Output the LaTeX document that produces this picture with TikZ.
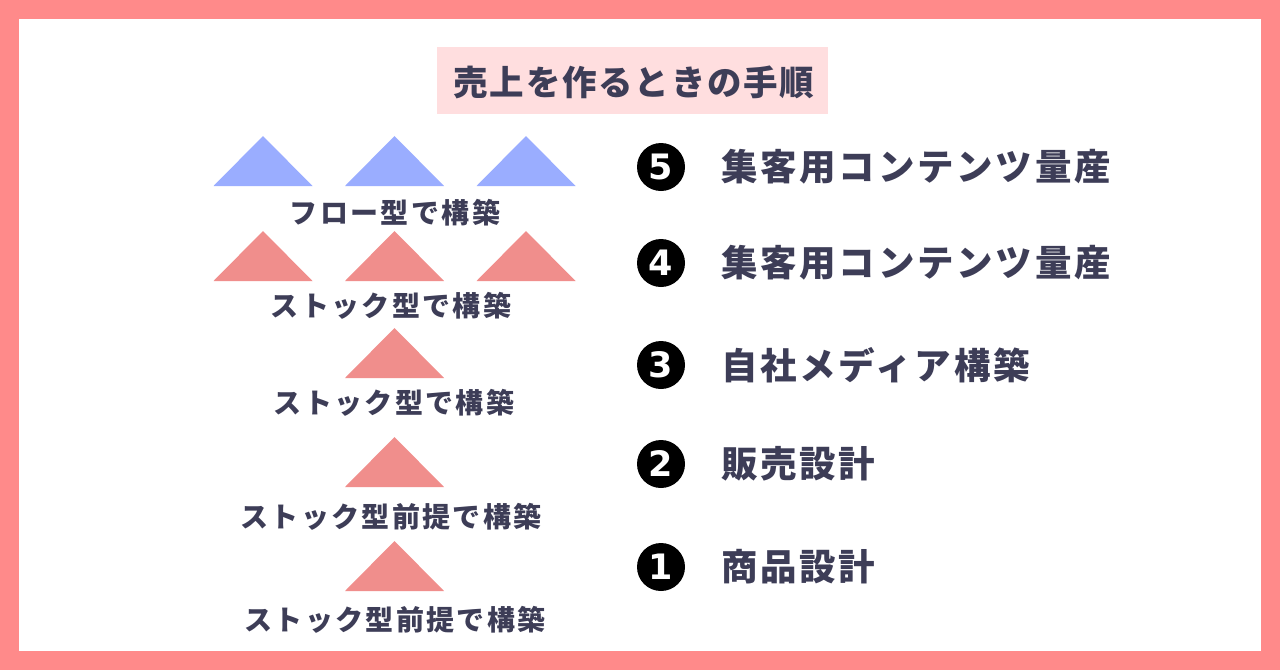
\documentclass[tikz,border=0pt]{standalone}
\usepackage{fontspec}
\newfontfamily\jp{Noto Sans CJK JP}
\newfontfamily\digitfont{DejaVu Sans}
\definecolor{frame}{HTML}{FF8A8A}
\definecolor{titlebg}{HTML}{FFDEDF}
\definecolor{ink}{HTML}{3D3D57}
\definecolor{blueT}{HTML}{9AADFF}
\definecolor{redT}{HTML}{F08E8C}
\tikzset{
  lbl/.style={font=\jp\bfseries\fontsize{28}{32}\selectfont\addfontfeature{LetterSpace=8.5}, text=ink, inner sep=0pt, anchor=center},
  item/.style={font=\jp\bfseries\fontsize{36.5}{40}\selectfont\addfontfeature{LetterSpace=7.5}, text=ink, inner sep=0pt, anchor=west},
  num/.style={circle, fill=black, minimum size=48pt, inner sep=0pt, text=white, font=\digitfont\bfseries\fontsize{35}{35}\selectfont},
}
\newcommand{\tri}[3]{\fill[#3] (#1-49.5,#2+50) -- (#1,#2) -- (#1+49.5,#2+50) -- cycle;}
\begin{document}
\begin{tikzpicture}[x=1pt,y=-1pt]
\useasboundingbox (0,0) rectangle (1280,670);
\fill[frame] (0,0) rectangle (1280,670);
\fill[white] (19,19) rectangle (1261,651);
% title
\node[fill=titlebg, minimum width=391pt, minimum height=67pt, inner sep=0pt, anchor=north west] (titlebox) at (437,47) {};
\node[font=\jp\bfseries\fontsize{34.5}{36}\selectfont\addfontfeature{LetterSpace=5}, text=ink, inner sep=0pt] (title) at (634,82) {売上を作るときの手順};
% triangles
\tri{263}{136}{blueT}
\tri{394.5}{136}{blueT}
\tri{526}{136}{blueT}
\tri{263}{231}{redT}
\tri{394.5}{231}{redT}
\tri{526}{231}{redT}
\tri{394.5}{328}{redT}
\tri{394.5}{437}{redT}
\tri{394.5}{541}{redT}
% left labels
\node[lbl] (l1) at (395,213) {フロー型で構築};
\node[lbl] (l2) at (391,306) {ストック型で構築};
\node[lbl] (l3) at (394,403) {ストック型で構築};
\node[lbl] (l4) at (391,517) {ストック型前提で構築};
\node[lbl] (l5) at (395,620) {ストック型前提で構築};
% right items
\node[num] (n5) at (661,167) {5};
\node[num] (n4) at (661,263) {4};
\node[num] (n3) at (661,365) {3};
\node[num] (n2) at (661,464) {2};
\node[num] (n1) at (661,567) {1};
\node[item] (i5) at (721,167) {集客用コンテンツ量産};
\node[item] (i4) at (721,263) {集客用コンテンツ量産};
\node[item] (i3) at (721,365) {自社メディア構築};
\node[item] (i2) at (721,464) {販売設計};
\node[item] (i1) at (721,567) {商品設計};
\end{tikzpicture}
\end{document}
